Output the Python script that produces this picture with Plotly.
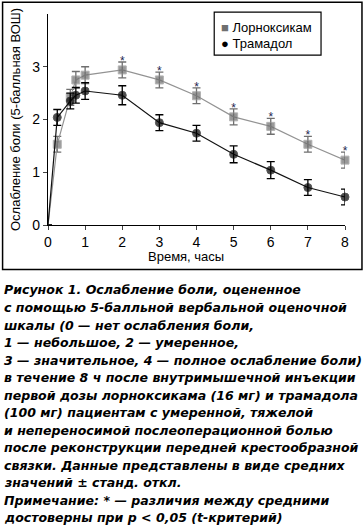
import plotly.graph_objects as go

# ---- data ----
time_h = [0, 0.25, 0.6, 0.75, 1, 2, 3, 4, 5, 6, 7, 8]
lornoxicam = [0, 1.53, 2.42, 2.75, 2.84, 2.94, 2.75, 2.45, 2.05, 1.87, 1.53, 1.23]
lornoxicam_sd = [0, 0.15, 0.15, 0.16, 0.16, 0.15, 0.15, 0.15, 0.15, 0.15, 0.15, 0.15]
tramadol = [0, 2.04, 2.35, 2.46, 2.54, 2.46, 1.94, 1.74, 1.34, 1.04, 0.71, 0.53]
tramadol_sd = [0, 0.15, 0.15, 0.15, 0.16, 0.18, 0.15, 0.15, 0.16, 0.16, 0.15, 0.15]
sig_times = [2, 3, 4, 5, 6, 7, 8]
x_ticks = [0, 1, 2, 3, 4, 5, 6, 7, 8]
y_ticks = [0, 1, 2, 3]
series_names = ["Лорноксикам", "Трамадол"]
x_title = "Время, часы"
y_title = "Ослабление боли (5-балльная ВОШ)"

caption_lines = [
    "Рисунок 1. Ослабление боли, оцененное",
    "с помощью 5-балльной вербальной оценочной",
    "шкалы (0 — нет ослабления боли,",
    "1 — небольшое, 2 — умеренное,",
    "3 — значительное, 4 — полное ослабление боли)",
    "в течение 8 ч после внутримышечной инъекции",
    "первой дозы лорноксикама (16 мг) и трамадола",
    "(100 мг) пациентам с умеренной, тяжелой",
    "и непереносимой послеоперационной болью",
    "после реконструкции передней крестообразной",
    "связки. Данные представлены в виде средних",
    "значений ± станд. откл.",
    "Примечание: * — различия между средними",
    "достоверны при p < 0,05 (t-критерий)",
]

# ---- layout geometry ----
W, H = 364, 527
L, R, T, B = 47.5, 19, 13.8, 302
PW, PH = W - L - R, H - T - B


def px(x):
    return (x - L) / PW


def py(y):
    return (H - B - y) / PH


FONT = "Liberation Sans, Arial, sans-serif"
CAP_FONT = "DejaVu Sans, Verdana, sans-serif"
GRAY_M = "#6f6f6f"
GRAY_L = "#939393"

fig = go.Figure()

lorn_sizes = [0] + [8] * (len(time_h) - 1)
tram_sizes = [0] + [8] * (len(time_h) - 1)

fig.add_trace(go.Scatter(
    x=time_h, y=lornoxicam, name=series_names[0], mode="lines+markers",
    line=dict(color=GRAY_L, width=1.2),
    marker=dict(symbol="square", size=lorn_sizes, color=GRAY_M),
    error_y=dict(type="data", array=lornoxicam_sd, color=GRAY_M, thickness=1.3, width=4),
    showlegend=False, cliponaxis=False,
))
fig.add_trace(go.Scatter(
    x=time_h, y=tramadol, name=series_names[1], mode="lines+markers",
    line=dict(color="#111111", width=1.2),
    marker=dict(symbol="circle", size=tram_sizes, color="#000000"),
    error_y=dict(type="data", array=tramadol_sd, color="#000000", thickness=1.3, width=4),
    showlegend=False, cliponaxis=False,
))

sig_y = [lornoxicam[time_h.index(t)] + lornoxicam_sd[time_h.index(t)] for t in sig_times]
fig.add_trace(go.Scatter(
    x=sig_times, y=sig_y, mode="text", text=["*"] * len(sig_times),
    textposition="middle center", textfont=dict(size=12, color="#1c2550", family=FONT),
    showlegend=False, hoverinfo="skip", cliponaxis=False,
))

# legend (manual, boxed)
fig.add_shape(type="rect", xref="paper", yref="paper",
              x0=px(214), x1=px(321), y0=py(55), y1=py(12),
              line=dict(color="black", width=1.2), fillcolor="white", layer="below")
fig.add_annotation(xref="paper", yref="paper", x=px(219), y=py(27), xanchor="left", yanchor="middle",
                   text=f"<span style='color:{GRAY_M}'>■</span> {series_names[0]}", showarrow=False,
                   font=dict(family=FONT, size=13, color="black"))
fig.add_annotation(xref="paper", yref="paper", x=px(219), y=py(43), xanchor="left", yanchor="middle",
                   text=f"● {series_names[1]}", showarrow=False,
                   font=dict(family=FONT, size=13, color="black"))

# outer frame around chart
fig.add_shape(type="rect", xref="paper", yref="paper",
              x0=px(2), x1=px(362), y0=py(269.5), y1=py(2),
              line=dict(color="black", width=1.5), fillcolor="rgba(0,0,0,0)")

# x-axis title (centred as in the original)
fig.add_annotation(xref="paper", yref="paper", x=px(186), y=py(257), xanchor="center", yanchor="middle",
                   text=x_title, showarrow=False, font=dict(family=FONT, size=13, color="black"))

# caption, one line per annotation
for i, ln in enumerate(caption_lines):
    fig.add_annotation(xref="paper", yref="paper", x=px(1), y=py(290 + i * 17.55),
                       xanchor="left", yanchor="middle", align="left", showarrow=False,
                       text=ln,
                       font=dict(family=CAP_FONT, size=12.55, color="black", weight="bold", style="italic"))

fig.update_layout(
    width=W, height=H,
    margin=dict(l=L, r=R, t=T, b=B, pad=0),
    paper_bgcolor="white", plot_bgcolor="white",
    font=dict(family=FONT, size=13, color="black"),
    xaxis=dict(range=[0, 8], tickvals=x_ticks, ticks="outside", ticklen=4, tickwidth=1.2,
               showline=True, linecolor="black", linewidth=1.2, showgrid=False, zeroline=False,
               automargin=False, tickfont=dict(size=14)),
    yaxis=dict(range=[0, 4], tickvals=y_ticks, ticks="outside", ticklen=4, tickwidth=1.2,
               showline=True, linecolor="black", linewidth=1.2, showgrid=False, zeroline=False,
               automargin=False,
               tickfont=dict(size=14),
               title=dict(text=y_title, font=dict(size=13), standoff=8)),
)

fig.write_html("out.html", config={"displayModeBar": False},
               post_script="document.body.style.margin='0';document.body.style.padding='0';")
